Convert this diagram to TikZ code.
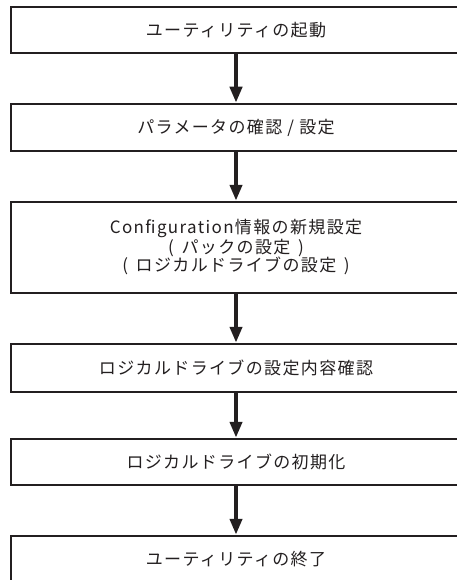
\documentclass[tikz,border=0pt]{standalone}
\usepackage{fontspec}
\newfontfamily\jpfont[LetterSpace=8]{Noto Sans CJK JP}
\usetikzlibrary{arrows.meta}
\definecolor{ink}{HTML}{231F20}
\newcommand{\pgap}{\hspace{2.5pt}}
\begin{document}
\begin{tikzpicture}[x=1pt,y=1pt,
  stepbox/.style={draw=ink, line width=2.5pt, minimum width=450pt, inner sep=0pt, align=center,
    font=\jpfont\fontsize{17}{18.5}\selectfont, text=ink},
  flow/.style={draw=ink, line width=4pt, -{Triangle[width=12pt,length=16pt]}}]
\useasboundingbox (0,0) rectangle (457,-580);
\clip (0,0) rectangle (457,-580);
\node[stepbox, minimum height=46pt] (b1) at (236,-30) {ユーティリティの起動};
\node[stepbox, minimum height=47pt] (b2) at (236,-127.5) {パラメータの確認 / 設定};
\node[stepbox, minimum height=91pt] (b3) at (236,-247.5) {Configuration情報の新規設定\\(\pgap{} パックの設定 \pgap{})\\(\pgap{} ロジカルドライブの設定 \pgap{})};
\node[stepbox, minimum height=48pt] (b4) at (236,-368) {ロジカルドライブの設定内容確認};
\node[stepbox, minimum height=46pt] (b5) at (236,-462) {ロジカルドライブの初期化};
\node[stepbox, minimum height=46pt] (b6) at (236,-559) {ユーティリティの終了};
\draw[flow] (b1.south) -- (b2.north);
\draw[flow] (b2.south) -- (b3.north);
\draw[flow] (b3.south) -- (b4.north);
\draw[flow] (b4.south) -- (b5.north);
\draw[flow] (b5.south) -- (b6.north);
\end{tikzpicture}
\end{document}
